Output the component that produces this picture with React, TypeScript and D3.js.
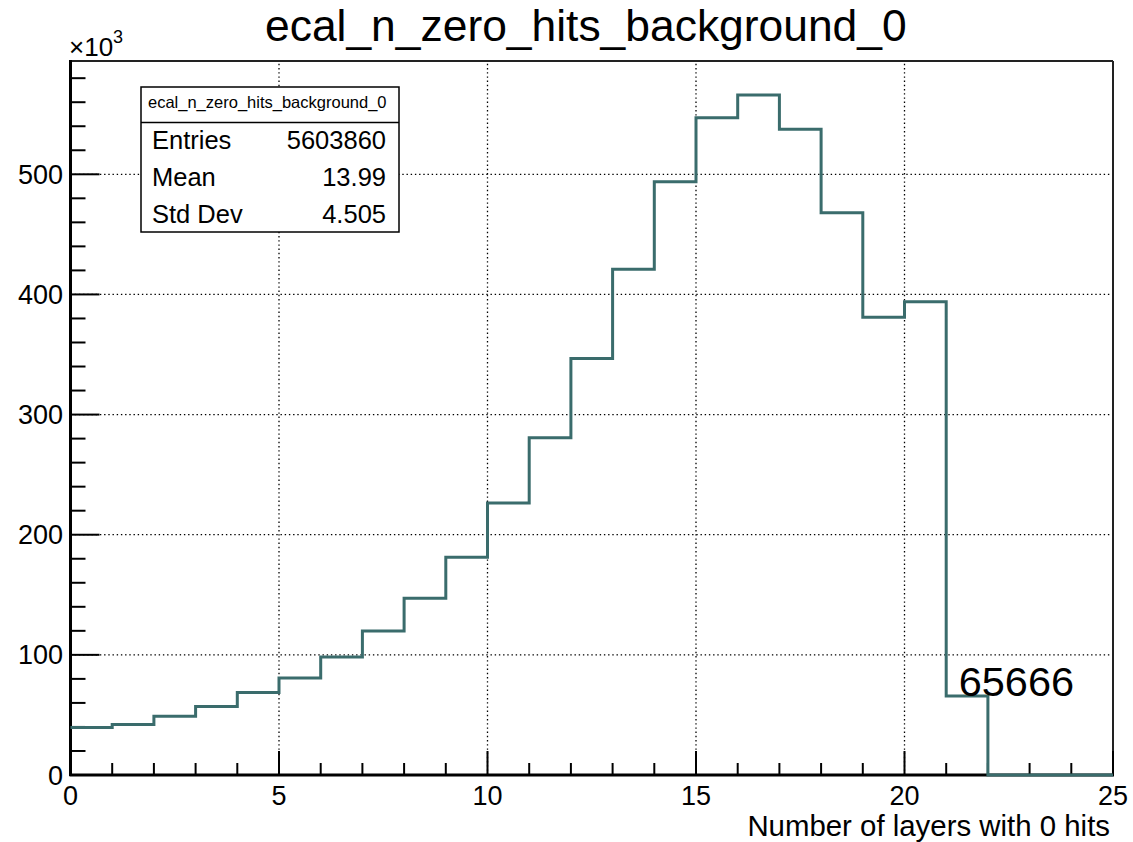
import React, { useEffect } from "react";
import * as d3 from "d3";

// ---- data ----
const binLowEdges = [0, 1, 2, 3, 4, 5, 6, 7, 8, 9, 10, 11, 12, 13, 14, 15, 16, 17, 18, 19, 20, 21, 22, 23, 24];
const binCounts = [
  39500, 42000, 49000, 57000, 68600, 80800, 98200, 119800, 147100, 181200,
  226300, 280800, 346600, 421000, 493800, 547000, 566000, 537500, 468000,
  381000, 394000, 65666, 0, 0, 0,
];
const xTicks = [0, 5, 10, 15, 20, 25];
const yTicks = [0, 100, 200, 300, 400, 500]; // in units of 10^3
const statsRows = [
  { label: "Entries", value: "5603860" },
  { label: "Mean", value: "13.99" },
  { label: "Std Dev", value: "4.505" },
];
const titleText = "ecal_n_zero_hits_background_0";
const xAxisTitle = "Number of layers with 0 hits";
const annotatedBin = 21;

const W = 1133;
const H = 842;
const FONT = "'Liberation Sans', Arial, Helvetica, sans-serif";
const LINE = "#3a6c6c";

export default function App() {
  useEffect(() => {
    document.body.style.margin = "0";
  }, []);

  const left = 70.5, right = 1113, top = 61, bottom = 775;
  const binWidth = 1;
  const xMax = 25;
  const yMax = d3.max(binCounts)! * 1.05 / 1000;
  const x = d3.scaleLinear().domain([0, xMax]).range([left, right]);
  const y = d3.scaleLinear().domain([0, yMax]).range([bottom, top]);

  // histogram outline points
  const pts: [number, number][] = [];
  binLowEdges.forEach((lo, i) => {
    const v = binCounts[i] / 1000;
    pts.push([lo, v]);
    pts.push([lo + binWidth, v]);
  });
  const line = d3.line<[number, number]>().x((d) => x(d[0])).y((d) => y(d[1])).curve(d3.curveLinear);

  const xMinor = d3.range(0, xMax + 0.001, 1);
  const yMinor = d3.range(0, yMax, 20);

  return (
    <svg width={W} height={H} style={{ display: "block", background: "#fff" }} fontFamily={FONT}>
      <rect x={0} y={0} width={W} height={H} fill="#fff" />
      {/* title */}
      <text x={265} y={41} fontSize={44.4} fill="#000">{titleText}</text>

      {/* grid */}
      {xTicks.filter((t) => t > 0 && t < xMax).map((t) => (
        <line key={"gx" + t} x1={x(t)} x2={x(t)} y1={bottom} y2={top} stroke="#000" strokeWidth={1.3} strokeDasharray="1.4 2.8" />
      ))}
      {yTicks.filter((t) => t > 0).map((t) => (
        <line key={"gy" + t} x1={left} x2={right} y1={y(t)} y2={y(t)} stroke="#000" strokeWidth={1.3} strokeDasharray="1.4 2.8" />
      ))}

      {/* frame top/right */}
      <line x1={left} x2={right} y1={top} y2={top} stroke="#222" strokeWidth={2} />
      <line x1={right} x2={right} y1={top} y2={bottom} stroke="#222" strokeWidth={2} />

      {/* y axis */}
      <line x1={left} x2={left} y1={top - 1} y2={bottom + 1} stroke="#000" strokeWidth={3} />
      {yMinor.map((t) => (
        <line key={"ym" + t} x1={left} x2={left + (t % 100 === 0 ? 29 : 15)} y1={y(t)} y2={y(t)} stroke="#000" strokeWidth={2} />
      ))}
      {yTicks.map((t) => (
        <text key={"yl" + t} x={63} y={y(t) + 9.5} fontSize={27} textAnchor="end" fill="#000">{t}</text>
      ))}
      <text x={69} y={56} fontSize={26} fill="#000">
        <tspan>×10</tspan>
        <tspan dy={-13} fontSize={18}>3</tspan>
      </text>

      {/* x axis */}
      <line x1={left - 1} x2={right + 1} y1={bottom} y2={bottom} stroke="#000" strokeWidth={3} />
      {xMinor.map((t) => (
        <line key={"xm" + t} x1={x(t)} x2={x(t)} y1={bottom} y2={bottom - (t % 5 === 0 ? 24 : 12)} stroke="#000" strokeWidth={2} />
      ))}
      {xTicks.map((t) => (
        <text key={"xl" + t} x={x(t)} y={805} fontSize={27} textAnchor="middle" fill="#000">{t}</text>
      ))}
      <text x={1110} y={836} fontSize={29.4} textAnchor="end" fill="#000">{xAxisTitle}</text>

      {/* histogram */}
      <path d={line(pts) || ""} fill="none" stroke={LINE} strokeWidth={3} strokeLinejoin="miter" />
      <text x={x(binLowEdges[annotatedBin] + 0.3)} y={y(binCounts[annotatedBin] / 1000)} fontSize={41.5} fill="#000">
        {binCounts[annotatedBin]}
      </text>

      {/* stats box */}
      <rect x={141} y={87} width={258} height={145} fill="#fff" stroke="#000" strokeWidth={1.5} />
      <line x1={141} x2={399} y1={122.5} y2={122.5} stroke="#000" strokeWidth={1.5} />
      <text x={148} y={108} fontSize={16.5} fill="#000">{titleText}</text>
      {statsRows.map((r, i) => (
        <g key={r.label}>
          <text x={152} y={149 + i * 37} fontSize={25.5} fill="#000">{r.label}</text>
          <text x={386} y={149 + i * 37} fontSize={25.5} textAnchor="end" fill="#000">{r.value}</text>
        </g>
      ))}
    </svg>
  );
}
